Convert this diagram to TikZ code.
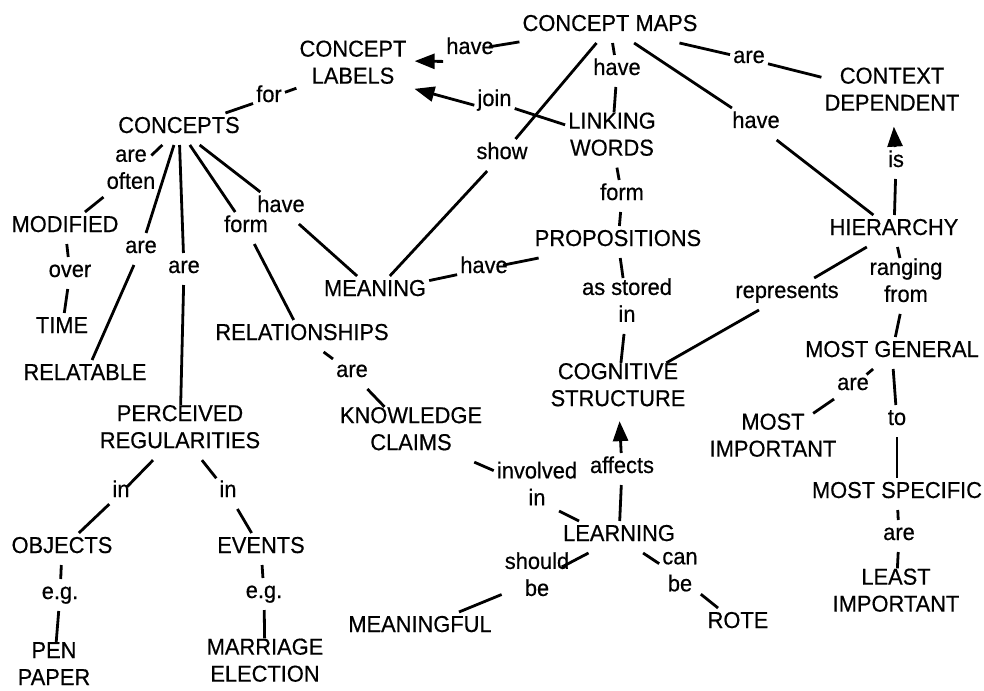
\documentclass[tikz,border=0pt]{standalone}
\usepackage{fontspec}
\setmainfont{Liberation Sans}[FakeStretch=0.95,FakeBold=0.5]
\usetikzlibrary{arrows.meta}
\newcommand\cmtop{\vrule height 19.8pt depth 0pt width 0pt}
\newcommand\cmbot{\vrule height 0pt depth 11.8pt width 0pt}
\begin{document}
\begin{tikzpicture}[x=1pt,y=-1pt,
  every node/.style={font=\fontsize{23pt}{27pt}\selectfont, align=center,
    inner xsep=3pt, inner ysep=0pt,
    execute at begin node=\cmtop, execute at end node=\cmbot},
  ln/.style={line width=2.8pt},
  arr/.style={ln, -{Triangle[length=20pt,width=15pt]}}]
\useasboundingbox (0,0) rectangle (984,690);

% concepts
\node (cm) at (610,27) {CONCEPT MAPS};
\node (cl) at (353,68) {CONCEPT\\LABELS};
\node (lw) at (612,140) {LINKING\\WORDS};
\node (cd) at (892,95) {CONTEXT\\DEPENDENT};
\node (hier) at (894,231) {HIERARCHY};
\node (mg) at (892,353) {MOST GENERAL};
\node (mi) at (773,441) {MOST\\IMPORTANT};
\node (ms) at (897,494) {MOST SPECIFIC};
\node (li) at (896,596) {LEAST\\IMPORTANT};
\node (con) at (179,129) {CONCEPTS};
\node (mod) at (65,228) {MODIFIED};
\node (time) at (62,329) {TIME};
\node (rel) at (85,376) {RELATABLE};
\node (pr) at (180,432.5) {PERCEIVED\\REGULARITIES};
\node (obj) at (62,549) {OBJECTS};
\node (pen) at (54,669.5) {PEN\\PAPER};
\node (ev) at (261,549) {EVENTS};
\node (mar) at (265,666) {MARRIAGE\\ELECTION};
\node (rels) at (302,336) {RELATIONSHIPS};
\node (mean) at (375,292) {MEANING};
\node (prop) at (618,242) {PROPOSITIONS};
\node (cs) at (618,390.5) {COGNITIVE\\STRUCTURE};
\node (kc) at (411,434.5) {KNOWLEDGE\\CLAIMS};
\node (learn) at (619,537) {LEARNING};
\node (mf) at (420,628) {MEANINGFUL};
\node (rote) at (738,624) {ROTE};

% linking phrases
\node (have1) at (470,50) {have};
\node (have2) at (617,71) {have};
\node (join) at (494.5,102) {join};
\node (show) at (502,155) {show};
\node (form1) at (622,196) {form};
\node (are1) at (749,59) {are};
\node (have3) at (756,124) {have};
\node (is) at (896,163) {is};
\node (repr) at (787,294) {represents};
\node (rf) at (906,286) {ranging\\from};
\node (are5) at (853,386) {are};
\node (to) at (897,421) {to};
\node (are6) at (899,536) {are};
\node (for) at (269,98) {for};
\node (areoften) at (131,175) {are\\often};
\node (over) at (70,273) {over};
\node (are2) at (141,249) {are};
\node (are3) at (184,269) {are};
\node (in1) at (121,493) {in};
\node (eg1) at (60,595) {e.g.};
\node (in2) at (228,493) {in};
\node (eg2) at (264,594) {e.g.};
\node (form2) at (246,228) {form};
\node (have4) at (281,208) {have};
\node (have5) at (484,269) {have};
\node (asi) at (627,306) {as stored\\in};
\node (are4) at (352,373) {are};
\node (inv) at (537,489.5) {involved\\in};
\node (aff) at (622,469) {affects};
\node (sb) at (537,580) {should\\be};
\node (cb) at (680,577.5) {can\\be};

% connectors
\draw[ln, shorten >=-8pt] (cm) -- (have1);
\draw[arr, shorten >=5pt] (have1.-157) -- (cl.7);
\draw[ln] (cm) -- (have2);
\draw[ln] (have2) -- (lw);
\draw[ln] (lw) -- (join);
\draw[arr, shorten >=5pt] (join.-171) -- (cl.-19);
\draw[ln] (cm) -- (show);
\draw[ln] (show) -- (mean);
\draw[ln] (cm) -- (are1);
\draw[ln] (are1) -- (cd);
\draw[ln] (cm) -- (have3);
\draw[ln] (have3) -- (hier);
\draw[ln] (hier) -- (is);
\draw[arr, shorten >=4pt] (is) -- (cd);
\draw[ln] (hier) -- (repr);
\draw[ln] (repr) -- (cs);
\draw[ln] (hier) -- (rf);
\draw[ln] (rf) -- (mg);
\draw[ln, shorten >=-7pt] (mg) -- (are5);
\draw[ln] (are5) -- (mi);
\draw[ln] (mg) -- (to);
\draw[ln] (to) -- (ms);
\draw[ln] (ms) -- (are6);
\draw[ln] (are6) -- (li);
\draw[ln] (lw) -- (form1);
\draw[ln] (form1) -- (prop);
\draw[ln] (con) -- (for);
\draw[ln] (for) -- (cl);
\draw[ln, shorten >=-9pt] (con) -- (areoften);
\draw[ln] (areoften) -- (mod);
\draw[ln] (mod) -- (over);
\draw[ln] (over) -- (time);
\draw[ln] (con) -- (are2);
\draw[ln] (are2) -- (rel);
\draw[ln] (con) -- (are3);
\draw[ln] (are3) -- (pr);
\draw[ln, shorten >=-8pt] (pr) -- (in1);
\draw[ln] (in1) -- (obj);
\draw[ln] (obj) -- (eg1);
\draw[ln] (eg1) -- (pen);
\draw[ln] (pr) -- (in2);
\draw[ln] (in2) -- (ev);
\draw[ln] (ev) -- (eg2);
\draw[ln] (eg2) -- (mar);
\draw[ln] (con) -- (form2);
\draw[ln] (form2) -- (rels);
\draw[ln] (con) -- (have4);
\draw[ln] (have4) -- (mean);
\draw[ln] (mean) -- (have5);
\draw[ln, shorten <=-8pt] (have5) -- (prop);
\draw[ln] (prop) -- (asi);
\draw[ln] (asi) -- (cs);
\draw[ln] (rels) -- (are4);
\draw[ln] (are4) -- (kc);
\draw[ln] (kc) -- (inv);
\draw[ln] ([xshift=22pt,yshift=-21.5pt]inv.center) -- ([xshift=-40pt]learn.north);
\draw[ln] (learn) -- (aff);
\draw[arr, shorten >=3pt] (aff) -- (cs);
\draw[ln, shorten >=-12pt] (learn) -- (sb);
\draw[ln] (sb) -- (mf);
\draw[ln] (learn) -- (cb);
\draw[ln] (cb) -- (rote);
\end{tikzpicture}
\end{document}
